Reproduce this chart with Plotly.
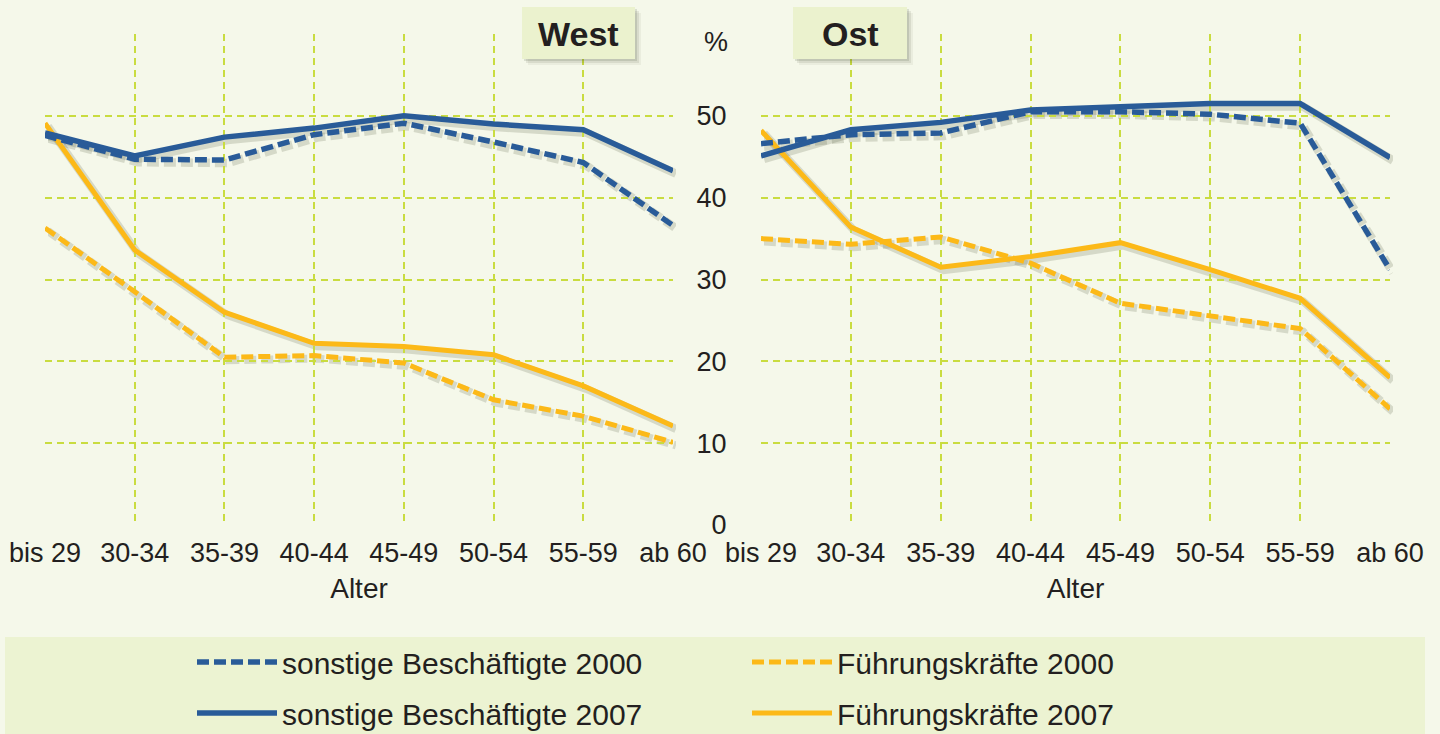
import plotly.graph_objects as go

# ---------------- data ----------------
categories = ["bis 29", "30-34", "35-39", "40-44", "45-49", "50-54", "55-59", "ab 60"]

west_sonstige_2000 = [47.6, 44.7, 44.6, 47.7, 49.1, 46.8, 44.3, 36.6]
west_sonstige_2007 = [47.9, 45.1, 47.4, 48.5, 50.0, 49.0, 48.3, 43.3]
west_fuehrung_2000 = [36.3, 28.5, 20.5, 20.7, 19.8, 15.3, 13.3, 10.1]
west_fuehrung_2007 = [49.1, 33.6, 26.0, 22.2, 21.8, 20.8, 17.0, 12.1]

ost_sonstige_2000 = [46.6, 47.7, 47.9, 50.5, 50.5, 50.2, 49.1, 31.2]
ost_sonstige_2007 = [45.1, 48.3, 49.2, 50.7, 51.1, 51.5, 51.5, 44.9]
ost_fuehrung_2000 = [35.0, 34.3, 35.2, 32.0, 27.1, 25.5, 24.0, 14.2]
ost_fuehrung_2007 = [48.2, 36.4, 31.5, 32.8, 34.5, 31.2, 27.7, 18.0]

series_names = ["sonstige Beschäftigte 2000", "Führungskräfte 2000",
                "sonstige Beschäftigte 2007", "Führungskräfte 2007"]
y_tickvals = [0, 10, 20, 30, 40, 50, 60]
y_ticktext = ["0", "10", "20", "30", "40", "50", ""]
panel_titles = ["West", "Ost"]
axis_title = "Alter"
unit_label = "%"

# ---------------- style ----------------
W, H = 1440, 734
BG = "#F5F8EA"
BOX = "#ECF3D2"
BLUE = "#295B98"
ORANGE = "#FCB918"
GRID = "#C9DC40"
TXT = "#231F20"
FONT = "Liberation Sans Narrow, Liberation Sans, Arial, sans-serif"
DASH = "12px,5px"

def px_x(p):
    return p / W

def px_y(p):
    return 1 - p / H

west_dom = [px_x(45), px_x(673)]
ost_dom = [px_x(761), px_x(1390)]
y_dom = [px_y(525), px_y(34)]
sx, sy = 3 / W, 3 / H  # shadow offset
shadow_col = "rgba(70,80,50,0.18)"

fig = go.Figure()

panels = [
    ("West", [west_sonstige_2000, west_fuehrung_2000, west_sonstige_2007, west_fuehrung_2007], 1, 3),
    ("Ost", [ost_sonstige_2000, ost_fuehrung_2000, ost_sonstige_2007, ost_fuehrung_2007], 2, 4),
]
colors = [BLUE, ORANGE, BLUE, ORANGE]
dashes = [DASH, DASH, "solid", "solid"]
widths = [5.5, 5, 5.5, 5]
draw_order = [1, 3, 0, 2]  # orange first, blue on top

# shadows
for pname, series, sh_ax, real_ax in panels:
    xs = "x" if sh_ax == 1 else f"x{sh_ax}"
    ys = "y" if sh_ax == 1 else f"y{sh_ax}"
    for i in draw_order:
        fig.add_trace(go.Scatter(
            x=categories, y=series[i], mode="lines", xaxis=xs, yaxis=ys,
            line=dict(color=shadow_col, width=widths[i] + 3, dash=dashes[i]),
            showlegend=False, hoverinfo="skip"))

# real lines
for pname, series, sh_ax, real_ax in panels:
    for i in draw_order:
        fig.add_trace(go.Scatter(
            x=categories, y=series[i], mode="lines",
            xaxis=f"x{real_ax}", yaxis=f"y{real_ax}",
            name=series_names[i],
            line=dict(color=colors[i], width=widths[i], dash=dashes[i]),
            showlegend=(pname == "West"),
            legend="legend" if i < 2 else "legend2",
            legendrank=i,
        ))

common_x = dict(type="category", range=[0, 7], categoryorder="array", categoryarray=categories)
hidden = dict(visible=False, showgrid=False, zeroline=False)

fig.update_layout(
    width=W, height=H,
    paper_bgcolor=BG, plot_bgcolor="rgba(0,0,0,0)",
    margin=dict(l=0, r=0, t=0, b=0, pad=0, autoexpand=False),
    font=dict(family=FONT, color=TXT, size=27),
    xaxis=dict(domain=[west_dom[0] + sx, west_dom[1] + sx], anchor="y", **common_x, **hidden),
    yaxis=dict(domain=[y_dom[0] - sy, y_dom[1] - sy], anchor="x", range=[0, 60], **hidden),
    xaxis2=dict(domain=[ost_dom[0] + sx, ost_dom[1] + sx], anchor="y2", **common_x, **hidden),
    yaxis2=dict(domain=[y_dom[0] - sy, y_dom[1] - sy], anchor="x2", range=[0, 60], **hidden),
)

for ax_id, dom, show_y in [(3, west_dom, False), (4, ost_dom, True)]:
    fig.update_layout(**{
        f"xaxis{ax_id}": dict(
            domain=dom, anchor=f"y{ax_id}", **common_x,
            showgrid=True, gridcolor=GRID, gridwidth=1.5, griddash="7px,5px",
            zeroline=False, showline=False,
            ticks="outside", ticklen=4, tickcolor="rgba(0,0,0,0)",
            tickfont=dict(size=27, family=FONT, color=TXT),
            title=dict(text=axis_title, standoff=10, font=dict(size=28, family=FONT, color=TXT)),
        ),
        f"yaxis{ax_id}": dict(
            domain=y_dom, anchor=f"x{ax_id}", range=[0, 60],
            tickmode="array", tickvals=y_tickvals, ticktext=y_ticktext,
            showgrid=True, gridcolor=GRID, gridwidth=1.5, griddash="7px,5px",
            zeroline=False, showline=False,
            showticklabels=show_y,
            ticks="outside" if show_y else "", ticklen=28, tickcolor="rgba(0,0,0,0)",
            tickfont=dict(size=27, family=FONT, color=TXT),
        ),
    })

legend_common = dict(
    orientation="h", xref="container", yref="container",
    x=px_x(192), xanchor="left", yanchor="middle",
    bgcolor="rgba(0,0,0,0)", borderwidth=0,
    itemwidth=80, entrywidth=460, entrywidthmode="pixels",
    font=dict(size=30, family=FONT, color=TXT),
    itemclick=False, itemdoubleclick=False,
)
fig.update_layout(
    legend=dict(y=px_y(662), **legend_common),
    legend2=dict(y=px_y(713), **legend_common),
)

shapes = [
    dict(type="rect", xref="paper", yref="paper", x0=px_x(5), x1=px_x(1425),
         y0=px_y(740), y1=px_y(637), fillcolor=BOX, line=dict(width=0), layer="below"),
]
annotations = [
    dict(text=unit_label, xref="paper", yref="paper", x=px_x(716), y=px_y(42),
         showarrow=False, font=dict(size=27, family=FONT, color=TXT),
         xanchor="center", yanchor="middle"),
]
for title, (bx0, bx1) in zip(panel_titles, [(522, 635), (793, 907)]):
    by0, by1 = 7, 59
    for k, a in [(6, 0.06), (4, 0.10), (2, 0.14)]:
        shapes.append(dict(type="rect", xref="paper", yref="paper",
                           x0=px_x(bx0 + k), x1=px_x(bx1 + k), y0=px_y(by1 + k), y1=px_y(by0 + k),
                           fillcolor=f"rgba(60,70,40,{a})", line=dict(width=0), layer="above"))
    shapes.append(dict(type="rect", xref="paper", yref="paper",
                       x0=px_x(bx0), x1=px_x(bx1), y0=px_y(by1), y1=px_y(by0),
                       fillcolor="#EBF2CE", line=dict(width=0), layer="above"))
    annotations.append(dict(text=f"<b>{title}</b>", xref="paper", yref="paper",
                            x=px_x((bx0 + bx1) / 2), y=px_y((by0 + by1) / 2 + 1),
                            showarrow=False, xanchor="center", yanchor="middle",
                            font=dict(size=34, family=FONT, color=TXT)))

fig.update_layout(shapes=shapes, annotations=annotations)

fig.write_html(
    "out.html",
    config={"displayModeBar": False},
    post_script="document.body.style.margin='0';document.body.style.padding='0';"
                "document.documentElement.style.overflow='hidden';",
)
